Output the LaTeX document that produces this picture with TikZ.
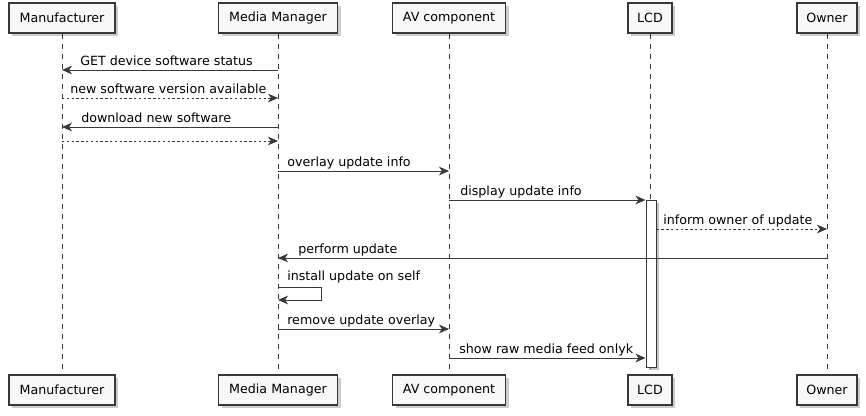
\documentclass[tikz,border=0pt]{standalone}
\usepackage{fontspec}
\setmainfont{DejaVu Sans}
\usetikzlibrary{arrows.meta,shadows}

\definecolor{lineg}{HTML}{383838}
\definecolor{boxfill}{HTML}{F8F8F8}

\tikzset{
  actor/.style={draw=lineg, line width=.9pt, fill=boxfill, minimum height=22.5pt,
    inner sep=0pt, drop shadow={shadow xshift=2.5pt, shadow yshift=-2.5pt, fill=black!40}},
  life/.style={draw=lineg, line width=.75pt, dash pattern=on 3.75pt off 3.75pt},
  msg/.style={draw=lineg, line width=.75pt, -{Stealth[length=7.5pt,width=6.5pt,inset=2.2pt]}},
  reply/.style={msg, dash pattern=on 1.8pt off 1.8pt},
  lbl/.style={anchor=base west, inner sep=0pt},
  actbox/.style={draw=lineg, line width=.75pt, fill=white, minimum width=7.5pt,
    minimum height=125.25pt, inner sep=0pt, drop shadow={shadow xshift=2.2pt, shadow yshift=-2.2pt, fill=black!45}}
}

\begin{document}
\begin{tikzpicture}[x=.75pt, y=.75pt, font=\fontsize{9.5}{11}\selectfont]
\useasboundingbox (0,0) rectangle (866,-415);

% participants, top and bottom
\foreach \p/\x/\w/\name in {man/62/79.5/Manufacturer, mm/278/89.25/Media Manager,
    av/449/84.75/AV component, lcd/650/33/LCD, own/827/45/Owner}{
  \node[actor, minimum width=\w pt] (\p) at (\x,-18) {\name};
  \node[actor, minimum width=\w pt] (\p2) at (\x,-390) {\name};
}

% lifelines
\foreach \p in {man,mm,av,lcd,own}
\draw[life] (\p) -- (\p2);

% activation on the LCD
\node[actbox] (act) at (651,-283.5) {};

% messages
\draw[msg] (mm |- 0,-70) -- (man |- 0,-70);
\node[lbl] (m1) at (80,-65) {GET device software status};

\draw[reply] (man |- 0,-98) -- (mm |- 0,-98);
\node[lbl] (m2) at (70,-93) {new software version available};

\draw[msg] (mm |- 0,-127) -- (man |- 0,-127);
\node[lbl] (m3) at (81,-122) {download new software};

\draw[reply] (man |- 0,-141) -- (mm |- 0,-141);

\draw[msg] (mm |- 0,-171) -- (av |- 0,-171);
\node[lbl] (m5) at (287,-166) {overlay update info};

\draw[msg] (av |- 0,-200) -- (act.west |- 0,-200);
\node[lbl] (m6) at (460,-195) {display update info};

\draw[reply] (act.east |- 0,-229) -- (own |- 0,-229);
\node[lbl] (m7) at (663,-224) {inform owner of update};

\draw[msg] (own |- 0,-258) -- (mm |- 0,-258);
\node[lbl] (m8) at (298,-253) {perform update};

% self call
\draw[msg] (mm |- 0,-287) -- ++(43,0) -- ++(0,-13) -- (mm |- 0,-300);
\node[lbl] (m9) at (287,-280) {install update on self};

\draw[msg] (mm |- 0,-329) -- (av |- 0,-329);
\node[lbl] (m10) at (287,-324) {remove update overlay};

\draw[msg] (av |- 0,-358) -- (act.west |- 0,-358);
\node[lbl] (m11) at (459,-353) {show raw media feed onlyk};

\end{tikzpicture}
\end{document}
